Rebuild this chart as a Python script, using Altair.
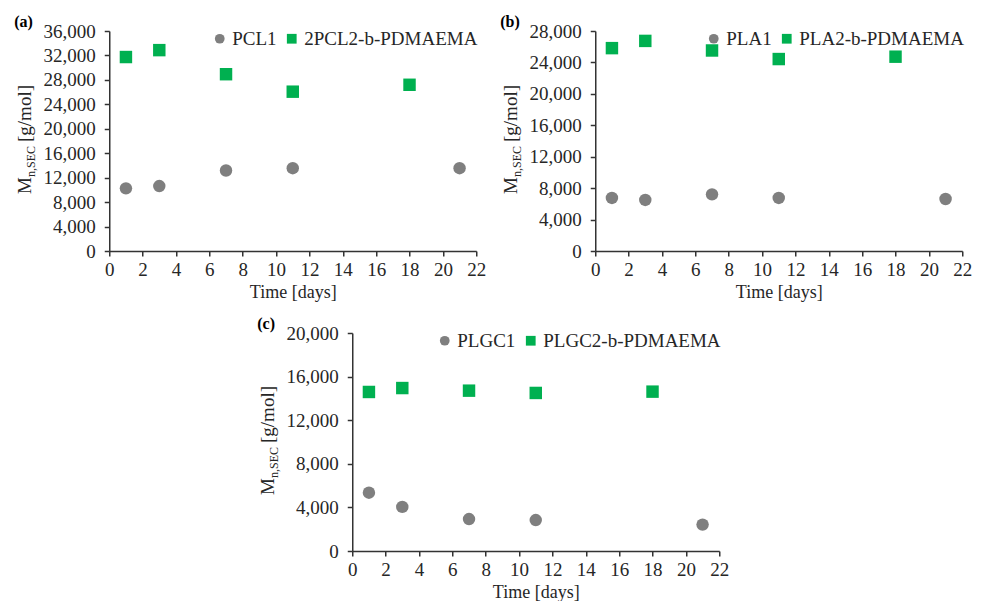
import altair as alt
import pandas as pd

# ---- data ----
days_gray = [1, 3, 7, 11, 21]
days_green = [1, 3, 7, 11, 18]

a_names = ["PCL1", "2PCL2-b-PDMAEMA"]
a_gray = [10250, 10630, 13170, 13550, 13550]
a_green = [31740, 32870, 28930, 26070, 27200]

b_names = ["PLA1", "PLA2-b-PDMAEMA"]
b_gray = [6750, 6500, 7210, 6750, 6620]
b_green = [25820, 26740, 25520, 24430, 24730]

c_names = ["PLGC1", "PLGC2-b-PDMAEMA"]
c_gray = [5350, 4050, 2930, 2840, 2420]
c_green = [14590, 14950, 14710, 14500, 14620]

x_ticks = list(range(0, 23, 2))

GRAY = "#7f7f7f"
GREEN = "#00b050"
FONT = "Liberation Serif"
TXT = "#262626"


def panel(label, names, gray, green, ymax, w, h):
    df = pd.DataFrame({
        "day": days_gray + days_green,
        "Mn": gray + green,
        "series": [names[0]] * len(gray) + [names[1]] * len(green),
    })
    leg = alt.Legend(
        orient="top-right", offset=-2, direction="horizontal",
        title=None, padding=0, labelOffset=3, columnPadding=5,
        symbolSize=95, symbolStrokeWidth=0, labelFont=FONT,
        labelFontSize=19, labelColor=TXT, labelLimit=400,
    )
    pts = alt.Chart(df).mark_point(filled=True, opacity=1, size=155).encode(
        x=alt.X("day:Q", scale=alt.Scale(domain=[0, 22], nice=False),
                axis=alt.Axis(values=x_ticks, title="Time  [days]", labelFlush=False)),
        y=alt.Y("Mn:Q", scale=alt.Scale(domain=[0, ymax], nice=False),
                axis=alt.Axis(values=list(range(0, ymax + 1, 4000)),
                              format=",.0f", title=None, labelFlush=False)),
        color=alt.Color("series:N", scale=alt.Scale(domain=names, range=[GRAY, GREEN]), legend=leg),
        shape=alt.Shape("series:N", scale=alt.Scale(domain=names, range=["circle", "square"]), legend=leg),
    )
    one = pd.DataFrame({"k": [0]})
    base_y = h / 2 + 53
    lab = alt.Chart(one).mark_text(text=label, font=FONT, fontSize=16, fontWeight="bold",
                                   align="left", baseline="alphabetic", color="#000").encode(
        x=alt.value(-95), y=alt.value(-4))
    t_m = alt.Chart(one).mark_text(text="M", font=FONT, fontSize=19, angle=270,
                                   align="left", baseline="alphabetic", color=TXT).encode(
        x=alt.value(-78), y=alt.value(base_y))
    t_sub = alt.Chart(one).mark_text(text="n,SEC", font=FONT, fontSize=12, angle=270,
                                     align="left", baseline="alphabetic", color=TXT).encode(
        x=alt.value(-74), y=alt.value(base_y - 17))
    t_unit = alt.Chart(one).mark_text(text="[g/mol]", font=FONT, fontSize=19, angle=270,
                                      align="left", baseline="alphabetic", color=TXT).encode(
        x=alt.value(-78), y=alt.value(base_y - 52))
    return alt.layer(pts, lab, t_m, t_sub, t_unit).properties(width=w, height=h)


pa = panel("(a)", a_names, a_gray, a_green, 36000, 367, 220)
pb = panel("(b)", b_names, b_gray, b_green, 28000, 367, 220)
pc = panel("(c)", c_names, c_gray, c_green, 20000, 367, 218)

top = alt.hconcat(pa, pb, spacing=14).resolve_scale(
    x="independent", y="independent", color="independent", shape="independent"
).resolve_legend(color="independent", shape="independent")

chart = alt.vconcat(top, pc, spacing=15, center=True).resolve_scale(
    x="independent", y="independent", color="independent", shape="independent"
).resolve_legend(color="independent", shape="independent").properties(
    padding={"left": 6, "top": 6, "right": 0, "bottom": 0}
).configure_view(stroke=None).configure_axis(
    grid=False, labelFont=FONT, labelFontSize=19, labelColor=TXT,
    titleFont=FONT, titleFontSize=18, titleFontWeight="normal", titleColor=TXT,
    domainColor="#333", domainWidth=1.5, tickColor="#333", tickWidth=1.5,
    tickSize=5, labelPadding=4, titlePadding=4,
).configure_axisY(labelPadding=9)

chart.save("out.html", embed_options={"renderer": "svg", "actions": False})
